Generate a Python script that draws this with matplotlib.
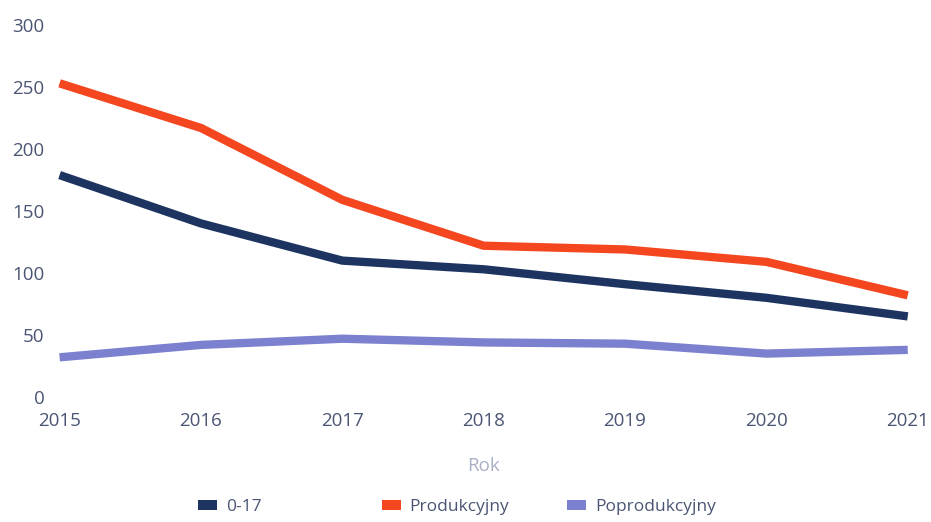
import matplotlib.pyplot as plt
from matplotlib.patches import Patch

plt.rcParams["font.family"] = ["Open Sans", "DejaVu Sans"]

years = [2015, 2016, 2017, 2018, 2019, 2020, 2021]
age_0_17 = [179, 140, 110, 103, 91, 80, 65]
produkcyjny = [253, 217, 159, 122, 119, 109, 82]
poprodukcyjny = [32, 42, 47, 44, 43, 35, 38]

labels = ["0-17", "Produkcyjny", "Poprodukcyjny"]
colors = ["#1d3461", "#f4461f", "#7b80cf"]
series = [age_0_17, produkcyjny, poprodukcyjny]

tick_color = "#4a5574"

fig = plt.figure(figsize=(9.31, 5.22), dpi=100)
ax = fig.add_axes([0.064, 0.2395, 0.911, 0.7125])

# kolejnosc rysowania: fioletowa, granatowa, czerwona na wierzchu
for i in [2, 0, 1]:
    ax.plot(years, series[i], color=colors[i], lw=6, solid_capstyle="butt",
            solid_joinstyle="round", clip_on=False)

ax.set_xlim(2015, 2021)
ax.set_ylim(0, 300)
ax.set_xticks(years)
ax.set_yticks([0, 50, 100, 150, 200, 250, 300])
ax.tick_params(axis="y", length=0, pad=11, labelsize=13.5, labelcolor=tick_color)
ax.tick_params(axis="x", length=0, pad=11, labelsize=13.5, labelcolor=tick_color)
for s in ax.spines.values():
    s.set_visible(False)

ax.set_xlabel("Rok", fontsize=13.5, color="#a9b0c6", labelpad=19)

# legenda - trzy osobne wpisy jak w oryginale
leg_x = [0.213, 0.410, 0.609]
for lab, col, lx in zip(labels, colors, leg_x):
    h = Patch(facecolor=col, edgecolor="none", label=lab)
    fig.legend(handles=[h], loc="center left", bbox_to_anchor=(lx, 0.028),
               frameon=False, fontsize=12.5, handlelength=1.1, handleheight=0.55,
               handletextpad=0.5, labelcolor=tick_color, borderaxespad=0,
               borderpad=0)

plt.savefig("out.png", dpi=100)
